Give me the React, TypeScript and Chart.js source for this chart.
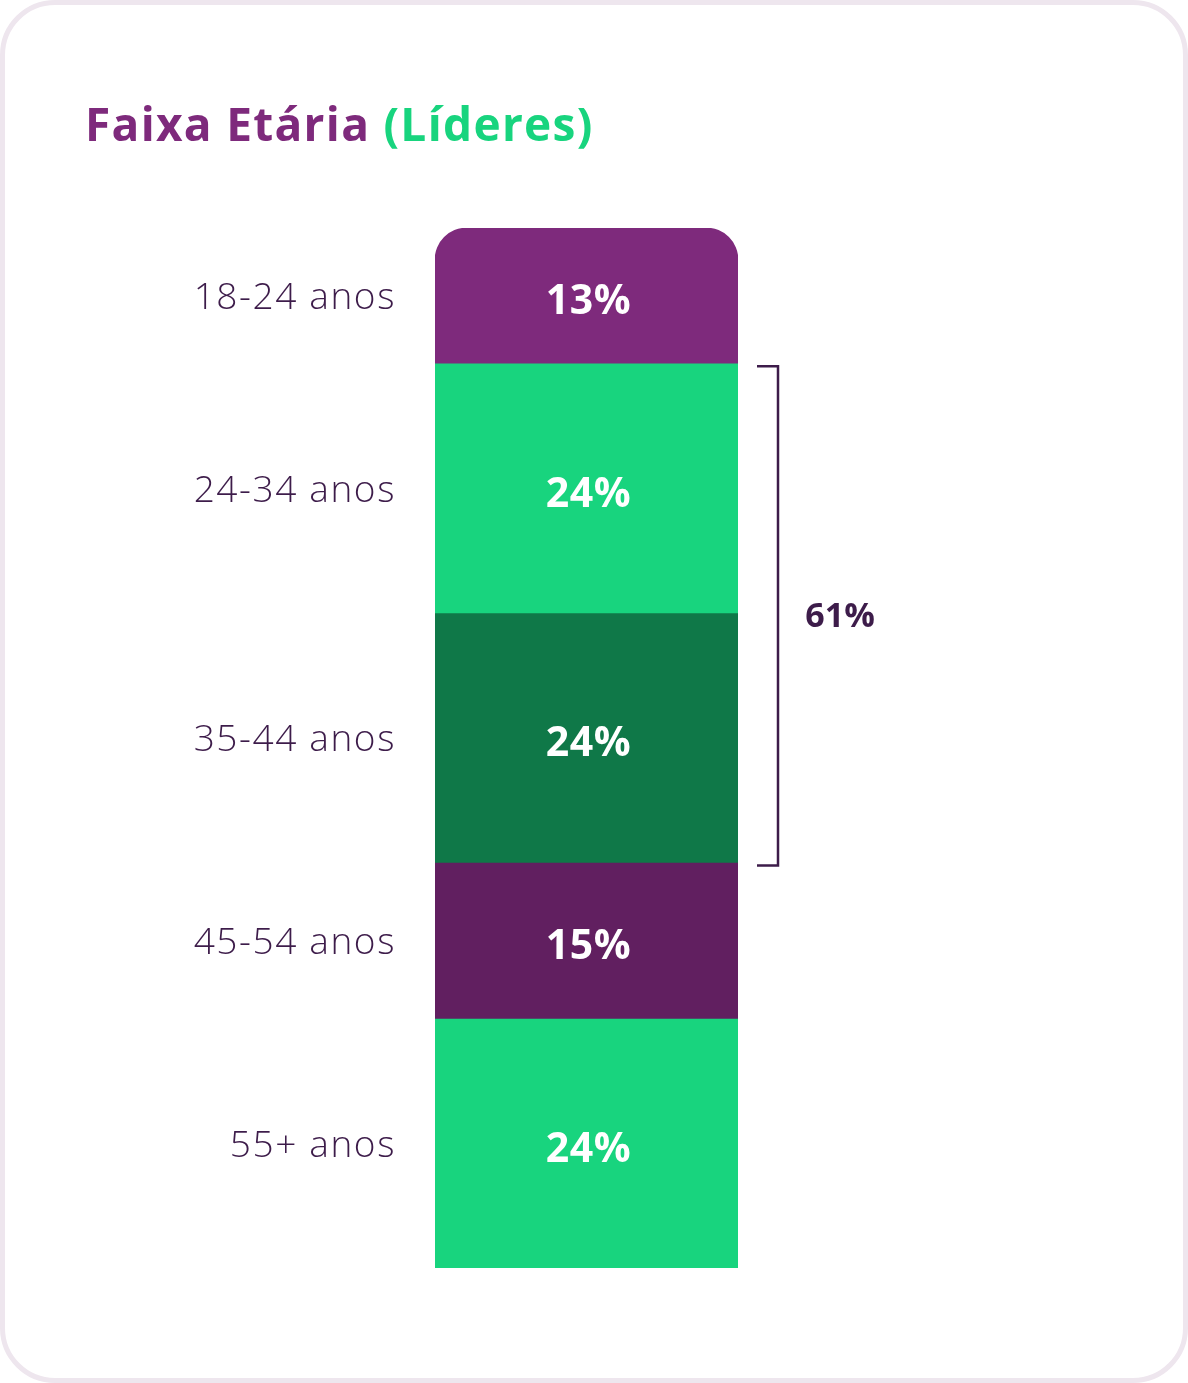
import React, { useEffect, useRef } from "react";
import { Chart, registerables } from "chart.js";

Chart.register(...registerables);

const categories = ["18-24 anos", "24-34 anos", "35-44 anos", "45-54 anos", "55+ anos"];
const values = [13, 24, 24, 15, 24];
const valueLabels = ["13%", "24%", "24%", "15%", "24%"];
const colors = ["#7E2A7C", "#18D47E", "#0F7848", "#611F60", "#18D47E"];
const bracketSegments = [1, 2];
const bracketLabel = "61%";
const titleMain = "Faixa Etária";
const titleSub = "(Líderes)";

const FONT = "'Open Sans', 'Noto Sans', sans-serif";
const TEXT_DARK = "#3D1C4A";

const W = 1188;
const H = 1383;

export default function App() {
  const canvasRef = useRef<HTMLCanvasElement | null>(null);

  useEffect(() => {
    const canvas = canvasRef.current;
    if (!canvas) return;

    const labelsPlugin = {
      id: "segmentLabels",
      afterDatasetsDraw(chart: any) {
        const ctx = chart.ctx;
        const area = chart.chartArea;
        const yScale = chart.scales.y;
        ctx.save();
        chart.data.datasets.forEach((_: any, i: number) => {
          const meta = chart.getDatasetMeta(i);
          const bar = meta.data[0];
          if (!bar) return;
          const cy = (bar.y + bar.base) / 2;
          ctx.fillStyle = "#FFFFFF";
          ctx.font = `700 41px ${FONT}`;
          (ctx as any).letterSpacing = "0.5px";
          ctx.textAlign = "center";
          ctx.textBaseline = "middle";
          ctx.fillText(valueLabels[i], bar.x + 2, cy + 7);

          ctx.fillStyle = TEXT_DARK;
          ctx.font = `300 37px ${FONT}`;
          (ctx as any).letterSpacing = "1.6px";
          ctx.textAlign = "right";
          ctx.fillText(categories[i], area.left - 39, cy + 3);
        });
        (ctx as any).letterSpacing = "0px";

        // bracket around grouped segments
        let start = 0;
        for (let k = 0; k < bracketSegments[0]; k++) start += values[k];
        let end = start;
        for (const k of bracketSegments) end += values[k];
        const top = yScale.getPixelForValue(start) + 3;
        const bottom = yScale.getPixelForValue(end) + 3;
        const x0 = area.right + 19;
        const x1 = area.right + 40;
        ctx.strokeStyle = TEXT_DARK;
        ctx.lineWidth = 2.5;
        ctx.beginPath();
        ctx.moveTo(x0, top);
        ctx.lineTo(x1, top);
        ctx.lineTo(x1, bottom);
        ctx.lineTo(x0, bottom);
        ctx.stroke();

        ctx.fillStyle = TEXT_DARK;
        ctx.font = `700 34px ${FONT}`;
        ctx.textAlign = "center";
        ctx.textBaseline = "middle";
        ctx.fillText(bracketLabel, area.right + 102, (top + bottom) / 2 + 2);
        ctx.restore();
      },
    };

    const chart = new Chart(canvas, {
      type: "bar",
      data: {
        labels: ["Líderes"],
        datasets: categories.map((c, i) => ({
          label: c,
          data: [values[i]],
          backgroundColor: colors[i],
          borderWidth: 0,
          borderSkipped: false,
          borderRadius:
            i === 0
              ? { topLeft: 32, topRight: 32, bottomLeft: 0, bottomRight: 0 }
              : 0,
          barPercentage: 1,
          categoryPercentage: 1,
          stack: "s",
        })),
      },
      options: {
        responsive: false,
        animation: false,
        layout: { padding: { left: 435, right: W - 738, top: 228, bottom: H - 1268 } },
        scales: {
          x: { stacked: true, display: false },
          y: { stacked: true, display: false, reverse: true, min: 0, max: 100 },
        },
        plugins: {
          legend: { display: false },
          tooltip: { enabled: false },
          title: { display: false },
        },
      },
      plugins: [labelsPlugin],
    } as any);

    return () => chart.destroy();
  }, []);

  return (
    <div style={{ position: "absolute", left: 0, top: 0, width: W, height: H, background: "#FFFFFF" }}>
      <div
        style={{
          position: "absolute",
          left: 0,
          top: 0,
          width: W,
          height: H,
          boxSizing: "border-box",
          border: "5px solid #EEE6EE",
          borderRadius: 55,
        }}
      />
      <canvas
        ref={canvasRef}
        width={W}
        height={H}
        style={{ position: "absolute", left: 0, top: 0, width: W, height: H }}
      />
      <div
        style={{
          position: "absolute",
          left: 85,
          top: 100,
          fontFamily: FONT,
          fontWeight: 700,
          fontSize: 46,
          lineHeight: "46px",
          letterSpacing: "1.3px",
          whiteSpace: "nowrap",
        }}
      >
        <span style={{ color: "#7E2A7C" }}>{titleMain}</span>{" "}
        <span style={{ color: "#18D47E" }}>{titleSub}</span>
      </div>
    </div>
  );
}
